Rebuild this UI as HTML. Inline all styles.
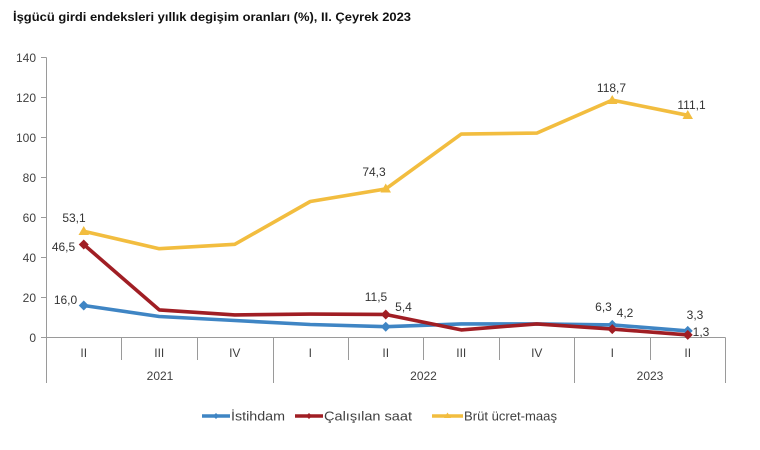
<!DOCTYPE html>
<html><head><meta charset="utf-8"><style>
html,body{margin:0;padding:0;background:#fff;}
svg{display:block;}
text{font-family:"Liberation Sans",Arial,sans-serif;}
</style></head><body>
<svg width="760" height="450" viewBox="0 0 760 450" xmlns="http://www.w3.org/2000/svg">
<rect width="760" height="450" fill="#fff"/>
<text x="13" y="21" font-size="12" font-weight="bold" fill="#111" textLength="398" lengthAdjust="spacingAndGlyphs">İşgücü girdi endeksleri yıllık degişim oranları (%), II. Çeyrek 2023</text>

<!-- y axis -->
<g stroke="#9a9a9a" stroke-width="1" fill="none">
<line x1="46.5" y1="57.5" x2="46.5" y2="383"/>
<line x1="41" y1="57.5" x2="46.5" y2="57.5"/>
<line x1="41" y1="97.5" x2="46.5" y2="97.5"/>
<line x1="41" y1="137.5" x2="46.5" y2="137.5"/>
<line x1="41" y1="177.5" x2="46.5" y2="177.5"/>
<line x1="41" y1="217.5" x2="46.5" y2="217.5"/>
<line x1="41" y1="257.5" x2="46.5" y2="257.5"/>
<line x1="41" y1="297.5" x2="46.5" y2="297.5"/>
<line x1="41" y1="337.5" x2="725.5" y2="337.5"/>
<line x1="121.5" y1="337.5" x2="121.5" y2="360"/>
<line x1="197.5" y1="337.5" x2="197.5" y2="360"/>
<line x1="273.5" y1="337.5" x2="273.5" y2="383"/>
<line x1="348.5" y1="337.5" x2="348.5" y2="360"/>
<line x1="423.5" y1="337.5" x2="423.5" y2="360"/>
<line x1="499.5" y1="337.5" x2="499.5" y2="360"/>
<line x1="574.5" y1="337.5" x2="574.5" y2="383"/>
<line x1="650.5" y1="337.5" x2="650.5" y2="360"/>
<line x1="725.5" y1="337.5" x2="725.5" y2="383"/>
</g>
<g font-size="12" fill="#404040" text-anchor="end">
<text x="36" y="62">140</text>
<text x="36" y="102">120</text>
<text x="36" y="142">100</text>
<text x="36" y="182">80</text>
<text x="36" y="222">60</text>
<text x="36" y="262">40</text>
<text x="36" y="302">20</text>
<text x="36" y="342">0</text>
</g>
<g font-size="12" fill="#404040" text-anchor="middle">
<text x="83.75" y="357">II</text>
<text x="159.25" y="357">III</text>
<text x="234.75" y="357">IV</text>
<text x="310.25" y="357">I</text>
<text x="385.75" y="357">II</text>
<text x="461.25" y="357">III</text>
<text x="536.75" y="357">IV</text>
<text x="612.25" y="357">I</text>
<text x="687.75" y="357">II</text>
<text x="160" y="380">2021</text>
<text x="423.5" y="380">2022</text>
<text x="650" y="380">2023</text>
</g>

<!-- series -->
<g fill="none" stroke-width="3.6" stroke-linejoin="round" stroke-linecap="round">
<polyline stroke="#f2bd3f" points="83.75,231.3 159.25,248.7 234.75,244.3 310.25,201.5 385.75,188.9 461.25,134.1 536.75,133.1 612.25,100.1 687.75,115.3"/>
<polyline stroke="#3f85c4" points="83.75,305.5 159.25,316.5 234.75,320.5 310.25,324.5 385.75,326.7 461.25,323.9 536.75,323.9 612.25,324.9 687.75,330.9"/>
<polyline stroke="#a01e24" points="83.75,244.5 159.25,309.9 234.75,314.9 310.25,314.1 385.75,314.5 461.25,329.9 536.75,323.9 612.25,329.1 687.75,334.9"/>
</g>
<!-- markers -->
<g fill="#f2bd3f">
<polygon points="83.75,226 78.5,235 89,235"/>
<polygon points="385.75,183.5 380.5,192.5 391,192.5"/>
<polygon points="612.25,95 607,104 617.5,104"/>
<polygon points="687.75,110 682.5,119 693,119"/>
</g>
<g fill="#3f85c4">
<polygon points="83.75,300.5 88.75,305.5 83.75,310.5 78.75,305.5"/>
<polygon points="385.75,321.7 390.75,326.7 385.75,331.7 380.75,326.7"/>
<polygon points="612.25,319.9 617.25,324.9 612.25,329.9 607.25,324.9"/>
<polygon points="687.75,325.9 692.75,330.9 687.75,335.9 682.75,330.9"/>
</g>
<g fill="#a01e24">
<polygon points="83.75,239.5 88.75,244.5 83.75,249.5 78.75,244.5"/>
<polygon points="385.75,309.5 390.75,314.5 385.75,319.5 380.75,314.5"/>
<polygon points="612.25,324.1 617.25,329.1 612.25,334.1 607.25,329.1"/>
<polygon points="687.75,329.9 692.75,334.9 687.75,339.9 682.75,334.9"/>
</g>

<!-- data labels -->
<g font-size="12" fill="#333" text-anchor="middle">
<text x="74" y="222">53,1</text>
<text x="63.5" y="251">46,5</text>
<text x="65.5" y="304">16,0</text>
<text x="374" y="176">74,3</text>
<text x="376" y="301">11,5</text>
<text x="403.5" y="311">5,4</text>
<text x="603.5" y="311">6,3</text>
<text x="625" y="317">4,2</text>
<text x="695" y="319">3,3</text>
<text x="701" y="336">1,3</text>
<text x="611.5" y="92">118,7</text>
<text x="691.5" y="109">111,1</text>
</g>

<!-- legend -->
<g stroke-width="3.6">
<line x1="202" y1="416" x2="230" y2="416" stroke="#3f85c4"/>
<line x1="295" y1="416" x2="323" y2="416" stroke="#a01e24"/>
<line x1="432" y1="416" x2="463" y2="416" stroke="#f2bd3f"/>
</g>
<polygon points="216,413 219,416 216,419 213,416" fill="#3f85c4"/>
<polygon points="309,413 312,416 309,419 306,416" fill="#a01e24"/>
<polygon points="447.5,412.5 451,418 444,418" fill="#f2bd3f"/>
<g font-size="13" fill="#404040">
<text x="231" y="420.5" textLength="54" lengthAdjust="spacingAndGlyphs">İstihdam</text>
<text x="324" y="420.5" textLength="88" lengthAdjust="spacingAndGlyphs">Çalışılan saat</text>
<text x="464" y="420.5" textLength="93" lengthAdjust="spacingAndGlyphs">Brüt ücret-maaş</text>
</g>
</svg>
</body></html>
